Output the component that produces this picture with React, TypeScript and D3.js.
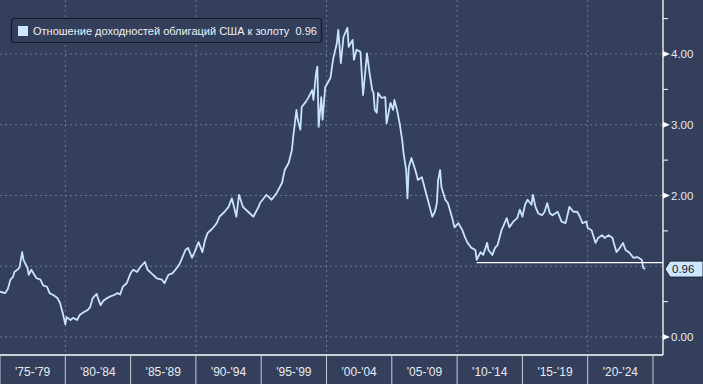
import React from "react";
import * as d3 from "d3";

// ratio of US bond yields to gold
const years = [
  1975.0, 1975.4, 1975.6, 1975.8, 1976.0, 1976.1, 1976.4, 1976.5, 1976.7, 1976.8, 1976.9,
  1977.1, 1977.2, 1977.4, 1977.5, 1977.8, 1978.1, 1978.3, 1978.6, 1978.8, 1979.1, 1979.4,
  1979.6, 1979.8, 1980.0, 1980.1, 1980.4, 1980.6, 1980.9, 1981.1, 1981.4, 1981.7, 1981.9,
  1982.1, 1982.4, 1982.5, 1982.7, 1982.9, 1983.2, 1983.4, 1983.7, 1984.0, 1984.2, 1984.4,
  1984.7, 1985.0, 1985.2, 1985.5, 1985.7, 1986.1, 1986.3, 1986.6, 1987.0, 1987.4, 1987.6,
  1987.9, 1988.2, 1988.6, 1988.8, 1989.2, 1989.4, 1989.7, 1989.9, 1990.2, 1990.5, 1990.7,
  1990.9, 1991.3, 1991.6, 1991.8, 1992.2, 1992.5, 1992.75, 1992.85, 1993.1, 1993.3, 1993.6,
  1994.0, 1994.4, 1994.8, 1994.9, 1995.4, 1995.8, 1996.2, 1996.6, 1996.8, 1997.1, 1997.35,
  1997.45, 1997.7, 1997.8, 1998.0, 1998.1, 1998.4, 1998.6, 1998.9, 1999.0, 1999.2, 1999.3,
  1999.4, 1999.6, 1999.7, 1999.9, 2000.3, 2000.5, 2000.8, 2000.9, 2001.1, 2001.3, 2001.6,
  2001.7, 2002.0, 2002.1, 2002.3, 2002.6, 2002.8, 2003.1, 2003.3, 2003.5, 2003.6, 2003.7,
  2003.85, 2003.95, 2004.2, 2004.5, 2004.6, 2004.9, 2005.1, 2005.2, 2005.4, 2005.6, 2005.8,
  2005.9, 2006.1, 2006.2, 2006.3, 2006.5, 2006.8, 2007.0, 2007.3, 2007.5, 2007.7, 2007.9,
  2008.1, 2008.3, 2008.45, 2008.55, 2008.7, 2008.8, 2009.1, 2009.3, 2009.6, 2009.8, 2010.1,
  2010.4, 2010.6, 2010.8, 2011.1, 2011.4, 2011.5, 2011.8, 2012.0, 2012.3, 2012.4, 2012.7,
  2012.9, 2013.1, 2013.4, 2013.5, 2013.8, 2014.0, 2014.3, 2014.6, 2014.8, 2015.0, 2015.2,
  2015.4, 2015.7, 2015.8, 2016.0, 2016.2, 2016.5, 2016.7, 2016.9, 2017.1, 2017.3, 2017.7,
  2018.0, 2018.3, 2018.4, 2018.6, 2018.9, 2019.2, 2019.4, 2019.6, 2019.9, 2020.0, 2020.3,
  2020.6, 2020.8, 2021.1, 2021.3, 2021.6, 2021.9, 2022.0, 2022.2, 2022.5, 2022.7, 2022.9,
  2023.2, 2023.5, 2023.8, 2023.9, 2024.15, 2024.25, 2024.4,
];
const values = [
  0.64, 0.62, 0.68, 0.81, 0.85, 0.92, 0.96, 0.99, 1.2, 1.09, 1.05,
  0.98, 0.88, 0.95, 0.92, 0.83, 0.81, 0.73, 0.71, 0.62, 0.59, 0.55,
  0.48, 0.34, 0.18, 0.28, 0.24, 0.27, 0.24, 0.31, 0.35, 0.38, 0.42,
  0.55, 0.61, 0.55, 0.45, 0.51, 0.55, 0.57, 0.59, 0.62, 0.6, 0.71,
  0.76, 0.9, 0.95, 0.92, 0.98, 1.06, 0.95, 0.9, 0.83, 0.81, 0.76,
  0.88, 0.9, 0.99, 1.05, 1.23, 1.26, 1.12, 1.2, 1.34, 1.2, 1.37,
  1.47, 1.54, 1.61, 1.7, 1.77, 1.84, 1.96, 1.89, 1.7, 2.01, 1.84,
  1.77, 1.7, 1.84, 1.89, 2.01, 1.94, 2.04, 2.18, 2.36, 2.46, 2.64,
  2.83, 3.21, 3.07, 2.93, 3.25, 3.32, 3.38, 3.49, 3.35, 3.73, 3.82,
  2.97, 3.39, 3.07, 3.53, 3.66, 3.92, 4.16, 4.34, 3.87, 4.24, 4.37,
  4.1, 4.2, 3.92, 4.06, 4.03, 3.42, 4.01, 3.73, 3.49, 3.45, 3.21,
  3.17, 3.45, 3.38, 3.39, 3.02, 3.31, 3.21, 3.35, 3.21, 3.02, 2.78,
  2.6, 2.36, 1.96, 2.4, 2.53, 2.36, 2.22, 2.26, 2.12, 1.98, 1.84,
  1.7, 1.77, 1.89, 2.22, 2.36, 2.12, 1.94, 1.89, 1.7, 1.55, 1.61,
  1.51, 1.41, 1.33, 1.26, 1.23, 1.09, 1.2, 1.16, 1.33, 1.23, 1.16,
  1.26, 1.3, 1.51, 1.55, 1.68, 1.55, 1.63, 1.68, 1.8, 1.7, 1.87,
  1.94, 1.87, 2.01, 1.84, 1.75, 1.72, 1.77, 1.89, 1.75, 1.72, 1.77,
  1.63, 1.61, 1.68, 1.84, 1.77, 1.77, 1.7, 1.61, 1.63, 1.54, 1.51,
  1.33, 1.4, 1.44, 1.4, 1.44, 1.4, 1.33, 1.2, 1.27, 1.33, 1.23,
  1.19, 1.12, 1.13, 1.12, 1.09, 0.98, 0.96,
];

const periodLabels = ["'75-'79", "'80-'84", "'85-'89", "'90-'94", "'95-'99", "'00-'04", "'05-'09", "'10-'14", "'15-'19", "'20-'24"];
const periodStarts = [1975, 1980, 1985, 1990, 1995, 2000, 2005, 2010, 2015, 2020, 2025];
const gridYears = [1980, 1990, 2000, 2010, 2020];
const yTicks = [0, 1, 2, 3, 4];
const yLabelTicks = [0, 2, 3, 4];
const yMinorTicks = [0.5, 1.5, 2.5, 3.5, 4.5];
const supportLevel = { from: 2011.5, value: 1.05 };
const seriesName = "Отношение доходностей облигаций США к золоту";
const lastValue = 0.96;

const W = 703;
const H = 384;
const plotRight = 663;
const plotBottom = 355;
const bg = "#333f5b";
const lineColor = "#c8e3ff";
const font = "'Liberation Sans', Arial, sans-serif";

export default function App() {
  const x = d3.scaleLinear().domain([1975, 2025]).range([0, 653]);
  const y = d3.scaleLinear().domain([0, 4]).range([337, 54]);

  const points = years.map((yr, i) => [yr, values[i]] as [number, number]);
  const path = d3.line<[number, number]>()
    .x((d) => x(d[0]))
    .y((d) => y(d[1]))(points);

  const ly = y(lastValue);

  return (
    <svg width={W} height={H} style={{ position: "absolute", left: 0, top: 0, display: "block" }}
      fontFamily={font}>
      <rect width={W} height={H} fill={bg} />

      {/* grid */}
      {yTicks.map((t) => (
        <line key={"gy" + t} x1={0} x2={plotRight} y1={y(t)} y2={y(t)}
          stroke="#6a7a98" strokeDasharray="2,3" strokeWidth={1} />
      ))}
      {gridYears.map((g) => (
        <line key={"gx" + g} x1={x(g)} x2={x(g)} y1={0} y2={plotBottom}
          stroke="#6a7a98" strokeDasharray="2,3" strokeWidth={1} />
      ))}

      {/* series */}
      <path d={path ?? ""} fill="none" stroke={lineColor} strokeWidth={1.8} strokeLinejoin="round" />

      {/* support line */}
      <line x1={x(supportLevel.from)} x2={plotRight} y1={y(supportLevel.value)} y2={y(supportLevel.value)}
        stroke="#ffffff" strokeWidth={1.3} />

      {/* plot frame */}
      <line x1={plotRight} x2={plotRight} y1={0} y2={plotBottom} stroke="#ffffff" strokeWidth={1.3} />
      <line x1={0} x2={plotRight} y1={plotBottom} y2={plotBottom} stroke="#ffffff" strokeWidth={1.3} />

      {/* right axis */}
      {yMinorTicks.map((t) => (
        <line key={"mt" + t} x1={plotRight} x2={plotRight + 5} y1={y(t)} y2={y(t)} stroke="#ffffff" strokeWidth={1} />
      ))}
      {yLabelTicks.map((t) => (
        <g key={"yl" + t}>
          <path d={`M${plotRight},${y(t) - 3}L${plotRight + 7},${y(t)}L${plotRight},${y(t) + 3}Z`} fill="#ffffff" />
          <text x={plotRight + 8} y={y(t)} dy="0.35em" fontSize={11.5} fill="#e8ecf2">{d3.format(".2f")(t)}</text>
        </g>
      ))}

      {/* last value tag */}
      <path d={`M${plotRight + 2},${ly}L${plotRight + 7},${ly - 8}H${W}V${ly + 8}H${plotRight + 7}Z`}
        fill="#cfe6ff" stroke="#1c2538" strokeWidth={1} />
      <text x={plotRight + 9} y={ly} dy="0.36em" fontSize={11.5} fill="#111a2a">{d3.format(".2f")(lastValue)}</text>

      {/* bottom axis */}
      {periodStarts.map((p) => (
        <line key={"sep" + p} x1={x(p)} x2={x(p)} y1={plotBottom} y2={H} stroke="#c8ced8" strokeWidth={1} />
      ))}
      {periodLabels.map((lab, i) => (
        <text key={lab} x={(x(periodStarts[i]) + x(periodStarts[i + 1])) / 2} y={376}
          textAnchor="middle" fontSize={12} fill="#e8ecf2">{lab}</text>
      ))}

      {/* legend */}
      <rect x={11.5} y={18.5} width={310} height={24} rx={3} fill={bg} stroke="#141b2a" strokeWidth={1.2} />
      <rect x={18} y={26} width={10} height={10} fill="#cfe6ff" />
      <text x={33} y={35} fontSize={11} fill="#eef1f5">{seriesName}{"\u00a0\u00a0"}{d3.format(".2f")(lastValue)}</text>
    </svg>
  );
}
